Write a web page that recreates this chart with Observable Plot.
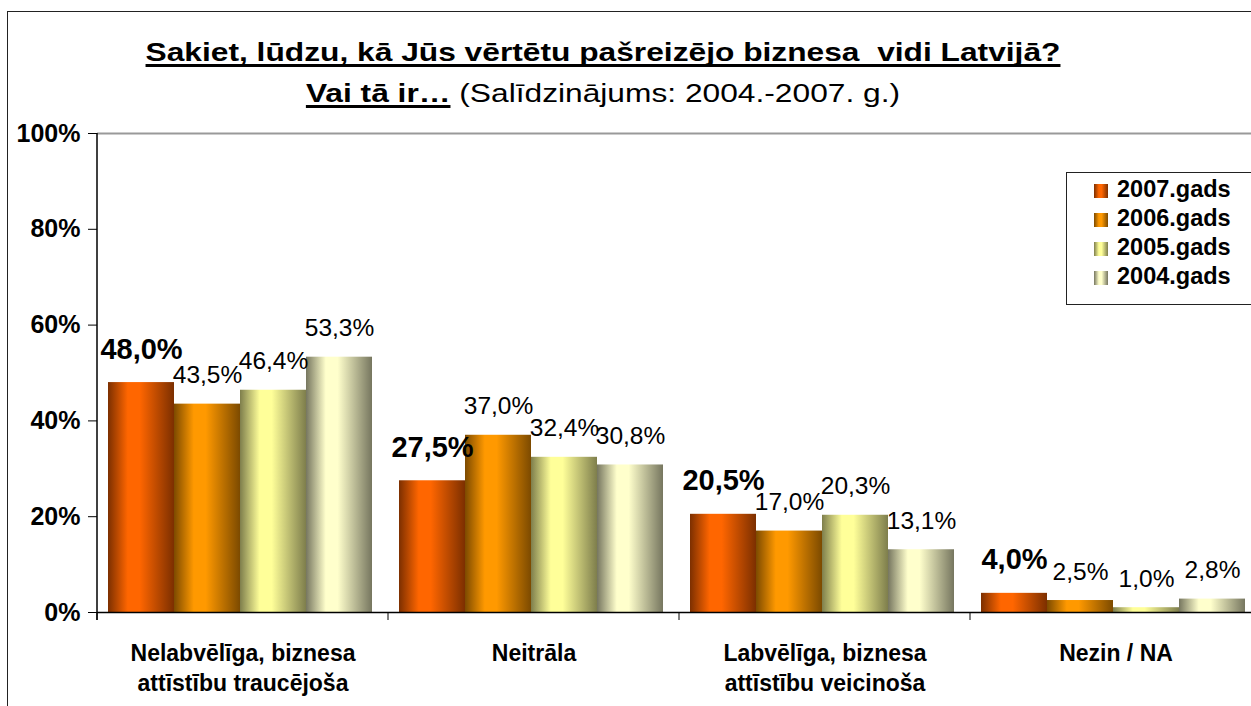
<!DOCTYPE html>
<html><head><meta charset="utf-8">
<script src="https://cdn.jsdelivr.net/npm/d3@7"></script>
<script src="https://cdn.jsdelivr.net/npm/@observablehq/plot@0.6"></script>
<style>
html,body{margin:0;padding:0;overflow:hidden;background:#fff;}
#wrap{position:relative;width:1251px;height:706px;overflow:hidden;font-family:"Liberation Sans",Arial,sans-serif;color:#000;}
#frame{position:absolute;left:7px;top:11px;width:1400px;height:900px;border-left:1.5px solid #222;border-top:1.5px solid #222;}
.t{position:absolute;left:0;width:1206px;text-align:center;font-size:26px;line-height:40px;white-space:pre;transform:scaleX(1.22);transform-origin:603px 50%;}
.t b{text-decoration:underline;text-decoration-thickness:2.5px;text-underline-offset:3px;text-decoration-skip-ink:none;}
#chart{position:absolute;left:0;top:115px;width:1270px;}
#chart svg{max-width:none !important;}
#legend{position:absolute;left:1066px;top:172px;width:300px;height:133px;border:1px solid #222;background:#fff;box-sizing:border-box;padding-top:2px;}
.row{position:relative;height:29px;line-height:29px;font-size:23.5px;font-weight:bold;}
.sw{position:absolute;left:27px;top:9px;width:14px;height:14px;}
.lab{position:absolute;left:50px;top:0;}
</style></head>
<body>
<div id="wrap">
  <div id="frame"></div>
  <div class="t" id="title1" style="top:32px"><b>Sakiet, lūdzu, kā Jūs vērtētu pašreizējo biznesa  vidi Latvijā?</b></div>
  <div class="t" id="title2" style="top:73px"><b>Vai tā ir…</b> (Salīdzinājums: 2004.-2007. g.)</div>
  <div id="chart"></div>
  <div id="legend"></div>
</div>
<script>
const categories = ["Nelabvēlīga, biznesa\nattīstību traucējoša", "Neitrāla", "Labvēlīga, biznesa\nattīstību veicinoša", "Nezin / NA"];
const years = ["2007.gads", "2006.gads", "2005.gads", "2004.gads"];
const v2007 = [48.0, 27.5, 20.5, 4.0];
const v2006 = [43.5, 37.0, 17.0, 2.5];
const v2005 = [46.4, 32.4, 20.3, 1.0];
const v2004 = [53.3, 30.8, 13.1, 2.8];
const yTicks = [0, 20, 40, 60, 80, 100];
const edgeColors = ["#7c2f00", "#7c4a00", "#7e7e4c", "#76765f"];
const centerColors = ["#ff6600", "#ff9900", "#ffff99", "#ffffcc"];

const series = [v2007, v2006, v2005, v2004];
const data = [];
categories.forEach((c, ci) => years.forEach((y, yi) => data.push({cat: c, year: y, value: series[yi][ci]})));

const fmt = v => v.toFixed(1).replace(".", ",") + "%";
const font = '"Liberation Sans", Arial, sans-serif';

const plot = Plot.plot({
  width: 1270, height: 591,
  marginTop: 18, marginBottom: 94, marginLeft: 95, marginRight: 8,
  style: {fontFamily: font, color: "#000", background: "transparent", overflow: "visible", maxWidth: "none"},
  fx: {domain: categories, padding: 0, label: null, axis: null},
  x: {domain: years, paddingInner: 0, paddingOuter: 0.2, align: 0.42, axis: null},
  y: {domain: [0, 100], axis: null},
  color: {domain: years, range: years.map((d, i) => `url(#grad${i})`)},
  marks: [
    Plot.ruleY([100], {stroke: "#999", strokeWidth: 2}),
    Plot.barY(data, {fx: "cat", x: "year", y: "value", fill: "year"}),
    Plot.ruleY([0], {stroke: "#000", strokeWidth: 1.5}),
    Plot.text(data.filter(d => d.year === years[0]), {fx: "cat", x: "year", y: "value", text: d => fmt(d.value), dy: -24, lineAnchor: "bottom", fontSize: 29, fontWeight: "bold", fill: "#000"}),
    Plot.text(data.filter(d => d.year !== years[0]), {fx: "cat", x: "year", y: "value", text: d => fmt(d.value), dy: -21, lineAnchor: "bottom", fontSize: 24.5, fill: "#000"}),
    Plot.axisY({ticks: yTicks, tickFormat: d => d + "%", tickSize: 9, tickPadding: 8, fontSize: 25, fontWeight: "bold", label: null}),
    Plot.axisFx({anchor: "bottom", tickSize: 0, tickPadding: 27, fontSize: 23, fontWeight: "bold", lineHeight: 1.3, label: null})
  ]
});

const svg = d3.select(plot);
svg.style("max-width", "none");
const defs = svg.insert("defs", ":first-child");
years.forEach((y, i) => {
  const g = defs.append("linearGradient").attr("id", `grad${i}`).attr("x1", 0).attr("x2", 1).attr("y1", 0).attr("y2", 0);
  [[0, edgeColors[i]], [0.3, centerColors[i]], [0.48, centerColors[i]], [1, edgeColors[i]]].forEach(([o, c]) =>
    g.append("stop").attr("offset", o).attr("stop-color", c));
});

// y axis line and category separator ticks, positioned from Plot's scales
const fxs = plot.scale("fx"), ys = plot.scale("y");
const y0 = ys.apply(0), y1 = ys.apply(100);
svg.append("line").attr("x1", fxs.apply(categories[0])).attr("x2", fxs.apply(categories[0]))
  .attr("y1", y1).attr("y2", y0 + 8).attr("stroke", "#000").attr("stroke-width", 1.5);
categories.forEach(c => {
  const x = fxs.apply(c);
  svg.append("line").attr("x1", x).attr("x2", x).attr("y1", y0).attr("y2", y0 + 8).attr("stroke", "#000").attr("stroke-width", 1);
});

document.getElementById("chart").appendChild(plot);

// legend
const leg = document.getElementById("legend");
years.forEach((y, i) => {
  const row = document.createElement("div");
  row.className = "row";
  const sw = document.createElement("div");
  sw.className = "sw";
  sw.style.background = `linear-gradient(to right, ${edgeColors[i]} 0%, ${centerColors[i]} 35%, ${centerColors[i]} 55%, ${edgeColors[i]} 100%)`;
  const lab = document.createElement("div");
  lab.className = "lab";
  lab.textContent = y;
  row.appendChild(sw); row.appendChild(lab);
  leg.appendChild(row);
});
</script>
</body></html>
